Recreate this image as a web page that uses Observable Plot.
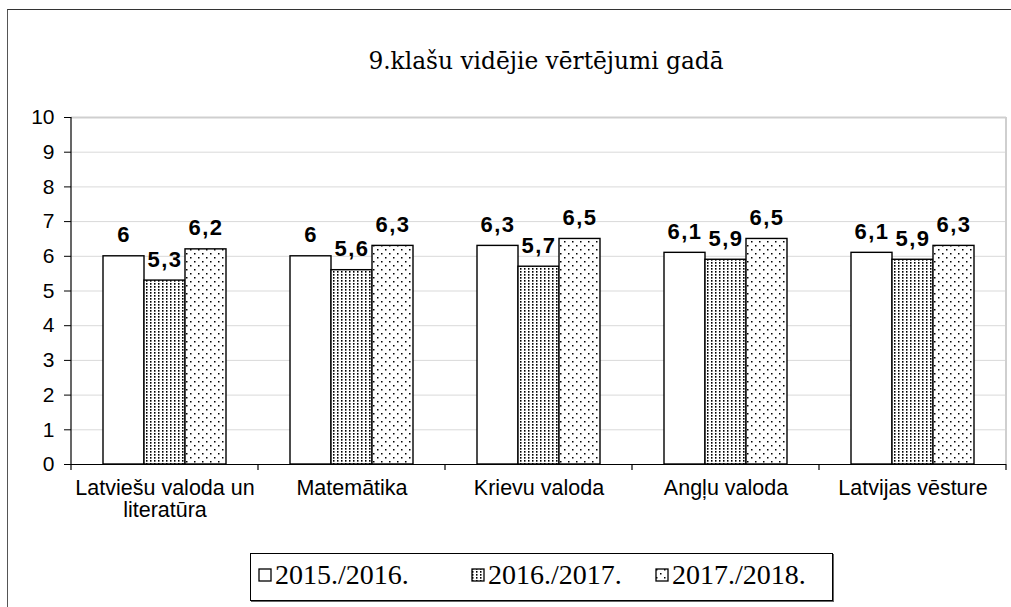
<!DOCTYPE html>
<html>
<head>
<meta charset="utf-8">
<script src="https://cdn.jsdelivr.net/npm/d3@7"></script>
<script src="https://cdn.jsdelivr.net/npm/@observablehq/plot@0.6"></script>
<style>
  html, body { margin: 0; padding: 0; background: #fff; }
  #page { position: relative; width: 1011px; height: 607px; overflow: hidden; font-family: Arial, "Liberation Sans", sans-serif; }
  #frame { position: absolute; left: 7px; top: 9px; width: 1100px; height: 700px; border-left: 1.5px solid #555; border-top: 1.5px solid #333; }
  #title { position: absolute; left: 0; width: 1092px; top: 47px; text-align: center; font-family: "DejaVu Serif", "Liberation Serif", serif; font-size: 23.3px; color: #000; }
  #chart { position: absolute; left: 0; top: 100px; }
  #legend { position: absolute; left: 250px; top: 553px; width: 581px; height: 46px; border: 1px solid #000; box-shadow: 1px 1px 0 #666; background: #fff;
    font-family: "Liberation Serif", "DejaVu Serif", serif; font-size: 28px; }
  .item { display: flex; align-items: center; position: absolute; top: 5px; }
  .item svg { margin-right: 2px; }
  #chart svg .value text { letter-spacing: 1.5px; }
</style>
</head>
<body>
<svg width="0" height="0" style="position:absolute">
  <defs>
    <pattern id="pDense" width="4" height="3" patternUnits="userSpaceOnUse">
      <rect width="4" height="3" fill="#fff"/>
      <rect x="1" y="0" width="1.5" height="1.7" fill="#000"/>
    </pattern>
    <pattern id="pSparse" width="8" height="8" patternUnits="userSpaceOnUse">
      <rect width="8" height="8" fill="#fff"/>
      <rect x="1" y="1" width="1.5" height="1.5" fill="#000"/>
      <rect x="5" y="5" width="1.5" height="1.5" fill="#000"/>
    </pattern>
  </defs>
</svg>
<div id="page">
  <div id="frame"></div>
  <div id="title">9.klašu vidējie vērtējumi gadā</div>
  <div id="chart"></div>
  <div id="legend"></div>
</div>
<script>
const categories = ["Latviešu valoda un literatūra", "Matemātika", "Krievu valoda", "Angļu valoda", "Latvijas vēsture"];
const years = ["2015./2016.", "2016./2017.", "2017./2018."];
const values2015 = [6, 6, 6.3, 6.1, 6.1];
const values2016 = [5.3, 5.6, 5.7, 5.9, 5.9];
const values2017 = [6.2, 6.3, 6.5, 6.5, 6.3];
const yTicks = [0, 1, 2, 3, 4, 5, 6, 7, 8, 9, 10];
const fills = ["#ffffff", "url(#pDense)", "url(#pSparse)"];
const categoryLabels = {"Latviešu valoda un literatūra": "Latviešu valoda un\nliteratūra"};

const series = [values2015, values2016, values2017];
const rows = [];
years.forEach((yr, i) => categories.forEach((c, j) => rows.push({cat: c, year: yr, value: series[i][j]})));

const chart = Plot.plot({
  width: 1011,
  height: 434,
  marginLeft: 70,
  marginRight: 5,
  marginTop: 17,
  marginBottom: 70,
  style: {fontFamily: "Arial, 'Liberation Sans', sans-serif", fontSize: "20px", color: "#000", background: "transparent"},
  fx: {domain: categories, padding: 0, label: null, axis: null},
  x: {domain: years, paddingInner: 0, paddingOuter: 0.76, axis: null},
  y: {domain: [0, 10], axis: null},
  marks: [
    Plot.ruleY(yTicks.slice(1, -1), {stroke: "#d9d9d9", strokeWidth: 1}),
    Plot.ruleY([10], {stroke: "#cfcfcf", strokeWidth: 2}),
    ...years.map((yr, i) => Plot.barY(rows.filter(d => d.year === yr), {
      fx: "cat", x: "year", y: "value", fill: fills[i], stroke: "#000", strokeWidth: 1.4
    })),
    Plot.ruleY([0], {stroke: "#000", strokeWidth: 1.2}),
    Plot.text(rows, {
      fx: "cat", x: "year", y: "value",
      text: d => String(d.value).replace(".", ","),
      lineAnchor: "bottom", dy: -14, fontWeight: "bold", fontSize: 22, fill: "#000",
      className: "value"
    }),
    Plot.axisY({ticks: yTicks, tickSize: 7, tickPadding: 10, fontSize: 21, anchor: "left", label: null}),
    Plot.axisFx({anchor: "bottom", tickSize: 0, tickPadding: 14, fontSize: 21.5, lineHeight: 1.05,
      label: null, tickFormat: d => categoryLabels[d] ?? d})
  ]
});
document.getElementById("chart").appendChild(chart);

// axis lines and category separator ticks drawn from the plot's own scales
const fx = chart.scale("fx");
const ys = chart.scale("y");
const svg = d3.select(chart);
const y0 = ys.apply(0), y10 = ys.apply(10);
const left = fx.apply(categories[0]);
const rightEdge = fx.apply(categories[categories.length - 1]) + fx.bandwidth;
svg.append("line").attr("x1", rightEdge).attr("x2", rightEdge).attr("y1", y10).attr("y2", y0).attr("stroke", "#cfcfcf").attr("stroke-width", 2);
svg.append("line").attr("x1", left).attr("x2", left).attr("y1", y10).attr("y2", y0 + 6).attr("stroke", "#000").attr("stroke-width", 1.2);
categories.forEach(c => {
  const xr = fx.apply(c) + fx.bandwidth;
  svg.append("line").attr("x1", xr).attr("x2", xr).attr("y1", y0).attr("y2", y0 + 6).attr("stroke", "#000").attr("stroke-width", 1.2);
});

// legend
const legend = document.getElementById("legend");
const lefts = [7, 220, 404];
years.forEach((yr, i) => {
  const it = document.createElement("div");
  it.className = "item";
  it.style.left = lefts[i] + "px";
  it.innerHTML = `<svg width="15" height="15"><rect x="1" y="1" width="12" height="12" fill="${fills[i]}" stroke="#000" stroke-width="1.3"/></svg><span>${yr}</span>`;
  legend.appendChild(it);
});
</script>
</body>
</html>
